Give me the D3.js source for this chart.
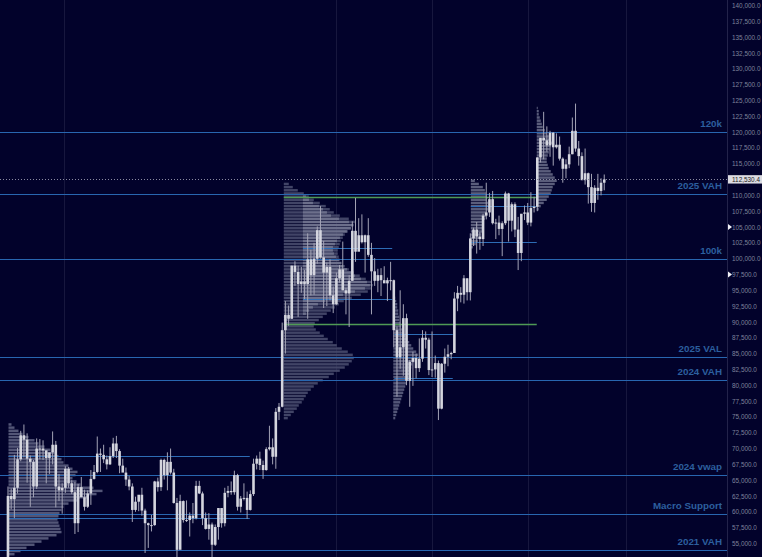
<!DOCTYPE html>
<html>
<head>
<meta charset="utf-8">
<script src="https://cdn.jsdelivr.net/npm/d3@7"></script>
<style>
    body { margin: 0; background: #02022b; }
    svg { display: block; }
</style>
</head>
<body>
<svg id="chart" width="762" height="557"></svg>
<script>
// prices in thousands of USD
const firstCandle = '2024-02-26';
const candleDays = 3;
const firstOpen = 51.7;
// [high, low, close] per 3-day candle
const candles = [
    [64.0,50.9,62.5],[63.7,60.4,62.0],[69.0,59.0,63.8],[70.1,62.9,68.3],[72.8,68.0,72.1],[73.8,68.6,71.4],
    [72.4,64.6,68.4],[68.9,60.8,67.9],[68.2,62.3,64.0],[71.6,63.6,70.0],[71.5,68.3,70.0],[71.3,68.2,69.7],
    [69.7,64.5,68.5],[69.3,66.0,69.4],[72.7,67.5,70.6],[71.2,60.7,64.0],[66.0,61.7,63.4],[64.5,59.7,63.8],
    [67.2,63.0,66.8],[67.1,63.8,64.5],[65.0,62.8,63.1],[64.7,56.5,58.2],[64.4,56.8,63.9],[65.5,62.5,62.3],
    [63.5,60.2,60.8],[63.4,60.6,62.9],[66.6,61.1,65.2],[67.4,65.1,66.3],[71.9,66.1,69.2],[70.0,66.3,69.0],
    [70.6,67.7,68.3],[68.9,66.7,67.5],[70.2,67.4,68.8],[71.7,68.5,70.8],[72.0,68.5,69.6],[69.9,66.1,67.3],
    [68.4,66.3,66.2],[67.0,64.1,65.1],[65.7,63.4,64.0],[64.5,58.4,60.3],[62.4,60.0,61.6],[62.2,60.1,62.7],
    [63.8,59.4,60.2],[60.5,53.5,58.2],[58.3,54.3,57.9],[59.5,56.9,57.9],[64.9,57.8,64.8],[65.4,63.2,63.9],
    [68.4,63.3,68.2],[68.4,65.1,65.8],[69.4,63.4,67.9],[70.0,65.9,66.2],[66.8,61.3,61.4],[62.2,49.0,54.0],
    [62.7,54.2,61.7],[61.8,58.3,58.7],[61.8,58.4,58.7],[59.9,56.1,59.4],[61.4,58.2,59.0],[64.9,58.8,64.1],
    [64.9,62.8,62.9],[63.2,57.9,59.0],[59.9,57.2,57.3],[59.8,55.6,58.0],[58.3,52.5,54.8],[58.0,54.6,57.6],
    [60.6,55.6,60.6],[60.6,57.5,58.2],[63.8,57.7,63.0],[64.1,62.3,63.3],[64.8,62.7,63.1],[66.5,62.7,65.8],
    [66.0,60.2,60.8],[62.5,59.9,62.1],[64.5,61.8,62.2],[63.2,58.9,60.3],[63.4,60.2,62.8],[68.4,62.5,67.6],
    [68.9,66.7,68.4],[69.5,66.6,67.4],[68.1,65.2,66.6],[70.2,66.5,69.9],[73.6,69.7,70.2],[71.6,67.5,68.7],
    [76.4,66.8,75.8],[77.2,74.5,76.6],[89.9,76.5,88.7],[93.3,85.0,91.1],[92.6,89.4,90.5],[98.9,90.5,98.9],
    [99.6,95.7,97.9],[98.9,90.8,96.0],[98.7,94.6,96.4],[98.2,93.6,96.0],[104.0,90.5,99.9],[101.4,94.2,97.4],
    [102.5,94.3,100.0],[105.1,99.2,104.5],[108.3,100.0,100.2],[102.8,92.2,97.8],[99.4,92.5,98.7],[99.9,93.4,94.2],
    [95.6,91.4,92.8],[97.8,92.7,96.9],[99.0,96.2,98.3],[102.7,95.0,95.0],[95.4,91.2,94.5],[97.4,89.2,96.5],
    [105.9,96.5,104.4],[109.6,99.5,101.1],[106.4,101.2,103.7],[107.0,102.4,102.6],[103.8,97.8,103.7],[106.4,100.3,100.6],
    [102.5,91.2,98.0],[100.1,95.7,96.5],[98.4,94.7,97.4],[98.5,94.1,96.6],[98.8,96.2,96.1],[97.0,93.3,96.6],
    [99.5,95.0,96.6],[96.7,86.0,88.7],[89.3,78.2,84.4],[95.0,82.6,86.0],[92.8,81.5,90.6],[91.3,80.0,80.7],
    [84.0,76.6,83.7],[85.3,79.9,84.3],[85.0,81.1,82.7],[87.4,82.1,84.2],[88.7,83.7,87.5],[88.5,85.8,87.2],
    [87.5,81.6,82.4],[88.5,81.3,82.5],[84.7,81.2,83.5],[83.9,74.5,76.3],[83.5,76.2,83.4],[85.8,82.0,84.5],
    [86.4,83.0,84.9],[85.3,84.1,85.1],[94.7,85.1,93.7],[95.7,91.7,94.6],[95.5,93.1,94.3],[97.4,92.9,96.9],
    [96.9,93.4,94.7],[104.0,93.4,103.2],[104.9,102.0,104.6],[105.8,100.8,103.5],[104.2,101.4,103.1],[107.1,102.0,106.8],
    [112.0,106.2,107.3],[110.4,106.6,109.4],[110.7,105.4,105.6],[106.3,103.1,105.7],[106.8,103.7,104.7],[105.9,100.4,105.6],
    [110.6,105.3,110.3],[110.4,102.7,106.0],[108.9,104.3,108.6],[108.9,103.4,104.6],[106.6,98.2,100.9],[106.9,99.6,107.1],
    [108.4,106.1,107.3],[108.8,105.3,105.7],[110.5,105.1,108.0],[109.8,107.3,108.2],[116.0,107.5,116.0],[119.0,115.2,119.1],
    [123.2,115.7,118.7],[120.9,116.9,117.9],[120.2,116.1,119.9],[120.0,114.7,117.6],[119.8,117.4,118.0],[119.3,115.5,115.8],
    [116.0,112.0,114.2],[115.7,112.7,114.9],[117.7,114.3,116.5],[122.3,116.5,120.2],[124.5,116.9,117.4],[118.6,114.7,116.2],
    [116.8,112.4,112.4],[117.4,111.7,113.5],[113.6,108.7,111.3],[113.4,107.4,108.8],[111.6,107.3,111.2],[113.4,109.3,110.7],
    [112.7,110.0,112.0],[113.3,110.8,112.5304]
];
const lastPrice = 112.5304;

// horizontal key levels (full width)
const levelNames = ['120k', '2025 VAH', '100k', '2025 VAL', '2024 VAH', '2024 vwap', 'Macro Support', '2021 VAH'];
const levelValues = [120, 110.2, 100, 84.45, 80.83, 65.8, 59.66, 53.97];

// short profile levels
const segFrom = ['2024-02-28', '2024-02-28', '2024-11-13', '2024-11-13', '2024-12-01', '2024-12-01', '2025-02-25', '2025-02-25', '2025-05-08', '2025-05-08'];
const segTo = ['2024-10-12', '2024-10-12', '2025-07-09', '2025-07-09', '2025-02-23', '2025-02-23', '2025-04-21', '2025-04-21', '2025-07-09', '2025-07-09'];
const segValues = [68.8, 59.0, 109.7, 89.7, 101.7, 93.6, 88.1, 81.1, 108.3, 102.6];
const segKinds = ['blue', 'blue', 'green', 'green', 'blue', 'blue', 'blue', 'blue', 'blue', 'blue'];

// volume profiles, rows of 0.5k, relative volume
const rowStep = 0.5;
const p1Vols = [6,12,18,26,33,40,48,53,52,51,50,49,50,51,53,55,60,70,80,88,94,85,72,68,64,67,69,64,60,55,53,50,46,42,36,30,26,20,14,10,6,3];
const p2Vols = [4,7,10,13,15,18,20,22,24,27,30,34,39,45,50,56,61,65,68,70,69,64,58,53,49,44,40,36,32,30,31,35,39,43,47,51,55,60,68,77,84,87,89,88,82,76,70,65,61,58,56,55,54,54,55,56,57,59,61,64,67,70,71,65,56,50,46,42,36,30,25,20,14,9,5];
const p3Vols = [3,6,10,15,22,30,40,52,62,67,64,58,52,48,44,40,38,36,33,31,30,30,32,34,37,40,44,48,50,46,36,28,24,20,16,10,6,3];
const p4Vols = [2,3,4,5,6,7,8,9,10,11,12,13,14,15,16,17,18,19,21,24,25,23,20,18,16,14,12,10,9,8,7,6,6,5,5,4,4,3,2,1];
const p5Vols = [2,5,7,9,10,11,12,12,13,14,15,16,17,17,17,16,16,15,14,12,8,4];
const p6Vols = [2,4,7,10,12,14,15,16,18,20,18,16,14,12,11,10,10,11,12,13,14,15,14,12,10,8,6,5,4,3,2,2,1];

const vlines = ['2024-04-20', '2025-01-01', '2025-04-01', '2025-07-01', '2025-10-01'];
const alertMarks = [105, 97.5];
const tickValues = d3.range(52.5, 140.01, 2.5);

const parse = d3.timeParse('%Y-%m-%d');
const W = 762, H = 557, plotW = 727;
const font = '"Liberation Sans", Arial, sans-serif';

const x = d3.scaleTime()
    .domain([parse('2024-02-20'), parse('2026-01-04')])
    .range([0, plotW]);
const y = d3.scaleLinear().domain([52.5, 140]).range([559.3, 5.5]);
const vx = d3.scaleLinear().domain([0, 100]).range([0, 100]);

const svg = d3.select('#chart');
svg.append('rect').attr('width', W).attr('height', H).attr('fill', '#02022b');

const plot = svg.append('g');

// vertical grid
plot.selectAll('line.vgrid')
    .data(vlines)
    .enter()
    .append('line')
    .attr('x1', d => Math.round(x(parse(d))) + 0.5)
    .attr('x2', d => Math.round(x(parse(d))) + 0.5)
    .attr('y1', 0).attr('y2', H)
    .style('stroke', '#17173e')
    .style('stroke-width', 1);

// volume profiles
const profiles = [
    { start: '2024-02-28', lo: 53.0, vols: p1Vols, fill: '#626585', op: 0.85 },
    { start: '2024-11-13', lo: 74.5, vols: p2Vols, fill: '#484b6d', op: 0.9 },
    { start: '2024-12-01', lo: 91.0, vols: p3Vols, fill: '#777a95', op: 0.8 },
    { start: '2025-02-24', lo: 74.5, vols: p4Vols, fill: '#626585', op: 0.85 },
    { start: '2025-05-08', lo: 101.5, vols: p5Vols, fill: '#6a6d8a', op: 0.85 },
    { start: '2025-07-09', lo: 107.5, vols: p6Vols, fill: '#6a6d8a', op: 0.85 }
];

profiles.forEach(p => {
    const x0 = x(parse(p.start));
    plot.append('g')
        .selectAll('rect')
        .data(p.vols)
        .enter()
        .append('rect')
        .attr('x', x0)
        .attr('y', (d, i) => y(p.lo + (i + 1) * rowStep))
        .attr('width', d => vx(d))
        .attr('height', (d, i) => Math.max(0.5, y(p.lo + i * rowStep) - y(p.lo + (i + 1) * rowStep) - 0.7))
        .style('fill', p.fill)
        .style('opacity', p.op);
});

// key level lines
plot.selectAll('line.level')
    .data(levelValues)
    .enter()
    .append('line')
    .attr('x1', 0).attr('x2', plotW)
    .attr('y1', d => Math.round(y(d)) + 0.5)
    .attr('y2', d => Math.round(y(d)) + 0.5)
    .style('stroke', '#2866b0')
    .style('stroke-width', 1.2);

// profile segments
plot.selectAll('line.seg')
    .data(segValues)
    .enter()
    .append('line')
    .attr('x1', (d, i) => x(parse(segFrom[i])))
    .attr('x2', (d, i) => x(parse(segTo[i])))
    .attr('y1', d => Math.round(y(d)) + 0.5)
    .attr('y2', d => Math.round(y(d)) + 0.5)
    .style('stroke', (d, i) => segKinds[i] === 'green' ? '#4f9a55' : '#2d6cb5')
    .style('stroke-width', (d, i) => segKinds[i] === 'green' ? 1.6 : 1.2);

// candles
const t0 = parse(firstCandle);
const bars = candles.map((c, i) => ({
    t: d3.timeDay.offset(t0, i * candleDays),
    o: i === 0 ? firstOpen : candles[i - 1][2],
    h: c[0], l: c[1], c: c[2]
}));
const mid = d => x(d3.timeHour.offset(d.t, candleDays * 12));

const cg = plot.append('g');
cg.selectAll('line')
    .data(bars)
    .enter()
    .append('line')
    .attr('x1', mid).attr('x2', mid)
    .attr('y1', d => y(d.h))
    .attr('y2', d => y(d.l))
    .style('stroke', '#a4a4b6')
    .style('stroke-width', 1);

cg.selectAll('rect')
    .data(bars)
    .enter()
    .append('rect')
    .attr('x', d => mid(d) - 1.3)
    .attr('y', d => y(Math.max(d.o, d.c)))
    .attr('width', 2.6)
    .attr('height', d => Math.max(1, Math.abs(y(d.o) - y(d.c))))
    .style('fill', '#d4d5de');

// last price dotted line
plot.append('line')
    .attr('x1', 0).attr('x2', plotW)
    .attr('y1', Math.round(y(lastPrice)) + 0.5)
    .attr('y2', Math.round(y(lastPrice)) + 0.5)
    .style('stroke', '#8a8aa0')
    .style('stroke-width', 1)
    .style('stroke-dasharray', '1,2');

// level labels
plot.selectAll('text.level')
    .data(levelValues)
    .enter()
    .append('text')
    .attr('x', 722)
    .attr('y', d => y(d) - 5)
    .attr('text-anchor', 'end')
    .text((d, i) => levelNames[i])
    .style('font-family', font)
    .style('font-weight', 'bold')
    .style('font-size', '9.8px')
    .style('fill', '#2c5f9e');

// price axis
const axisG = svg.append('g').attr('transform', 'translate(' + plotW + ',0)');
axisG.append('line')
    .attr('x1', 0.5).attr('x2', 0.5).attr('y1', 0).attr('y2', H)
    .style('stroke', '#23234a');
const axis = d3.axisRight(y)
    .tickValues(tickValues)
    .tickSize(0)
    .tickPadding(5)
    .tickFormat(d => d3.format(',.1f')(d * 1000));
const ag = axisG.append('g').call(axis);
ag.select('.domain').remove();
ag.selectAll('text')
    .style('font-family', font)
    .style('font-size', '6.4px')
    .style('fill', '#7e829b');

// last price tag
const py = y(lastPrice);
axisG.append('rect')
    .attr('x', 1).attr('y', py - 4.2)
    .attr('width', 35).attr('height', 8.4)
    .style('fill', '#dcdce2');
axisG.append('text')
    .attr('x', 5).attr('y', py + 2.3)
    .text(d3.format(',.1f')(lastPrice * 1000))
    .style('font-family', font)
    .style('font-size', '6.4px')
    .style('fill', '#222');

// alert markers
axisG.selectAll('path.mark')
    .data(alertMarks)
    .enter()
    .append('path')
    .attr('d', d => 'M1,' + (y(d) - 3) + 'L5,' + y(d) + 'L1,' + (y(d) + 3) + 'Z')
    .style('fill', '#f0f0f5');
</script>
</body>
</html>
